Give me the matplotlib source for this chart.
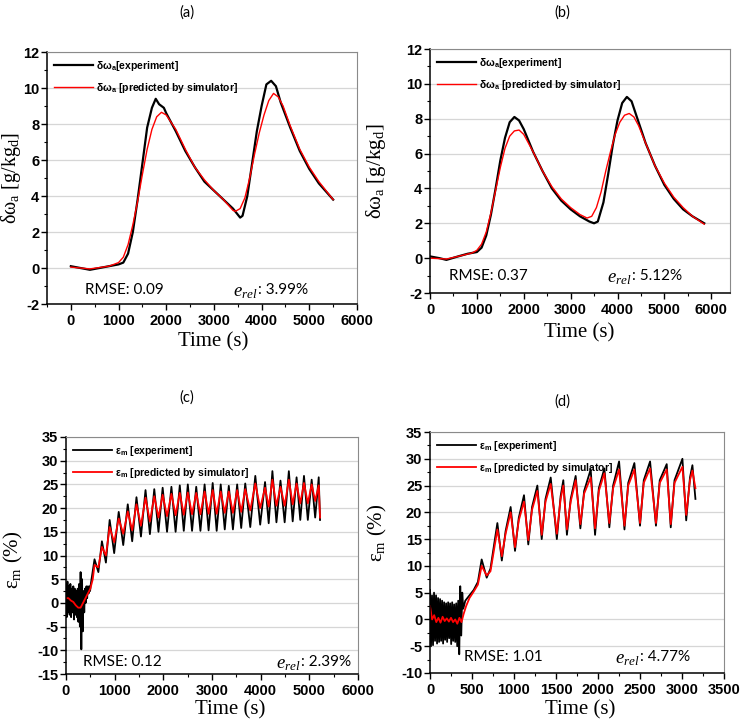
import numpy as np
import matplotlib
matplotlib.use('Agg')
import matplotlib.pyplot as plt
from matplotlib.ticker import MultipleLocator, AutoMinorLocator

plt.rcParams['font.family'] = 'Liberation Sans'
plt.rcParams['font.weight'] = 'bold'
plt.rcParams['axes.unicode_minus'] = False
plt.rcParams['mathtext.fontset'] = 'custom'
plt.rcParams['mathtext.it'] = 'Liberation Serif:style=italic:weight=normal'
plt.rcParams['mathtext.rm'] = 'Liberation Serif:weight=normal'

# ---- panel (a) ----
a_exp_t = [0, 200, 400, 600, 800, 1000, 1100, 1200, 1300, 1400, 1500, 1600, 1700, 1780, 1850, 1950, 2000,
           2200, 2400, 2600, 2800, 3000, 3200, 3400, 3550, 3600, 3700, 3800, 3900, 4000, 4100, 4200, 4300,
           4400, 4600, 4800, 5000, 5200, 5500]
a_exp_v = [0.1, 0.0, -0.1, 0.0, 0.1, 0.2, 0.3, 0.8, 2.0, 3.8, 5.8, 7.8, 8.9, 9.4, 9.1, 8.9, 8.6,
           7.6, 6.5, 5.6, 4.8, 4.3, 3.8, 3.3, 2.8, 2.9, 4.0, 5.8, 7.6, 9.0, 10.2, 10.4, 10.1,
           9.2, 7.8, 6.5, 5.5, 4.7, 3.8]
a_sim_t = [0, 400, 800, 1000, 1100, 1200, 1300, 1400, 1500, 1600, 1700, 1800, 1900, 2000, 2200, 2400,
           2600, 2800, 3000, 3200, 3400, 3450, 3550, 3650, 3750, 3850, 3950, 4050, 4150, 4250, 4350,
           4450, 4600, 4800, 5000, 5200, 5500]
a_sim_v = [0.05, -0.05, 0.1, 0.3, 0.6, 1.3, 2.4, 3.7, 5.2, 6.6, 7.7, 8.4, 8.65, 8.5, 7.7, 6.6,
           5.6, 4.9, 4.3, 3.8, 3.2, 3.15, 3.3, 3.9, 5.0, 6.3, 7.5, 8.5, 9.3, 9.7, 9.5,
           9.0, 7.9, 6.6, 5.6, 4.8, 3.8]

# ---- panel (b) ----
b_exp_t = [0, 200, 350, 600, 800, 1000, 1100, 1200, 1300, 1400, 1500, 1600, 1700, 1800, 1900, 2000,
           2200, 2400, 2600, 2800, 3000, 3200, 3400, 3500, 3580, 3700, 3800, 3900, 4000, 4100, 4200,
           4300, 4400, 4600, 4800, 5000, 5200, 5400, 5600, 5850]
b_exp_v = [0.1, 0.0, -0.1, 0.1, 0.25, 0.35, 0.6, 1.3, 2.5, 4.0, 5.6, 6.9, 7.8, 8.1, 7.9, 7.4,
           6.1, 5.0, 4.0, 3.3, 2.8, 2.4, 2.1, 2.0, 2.1, 3.2, 4.8, 6.5, 7.9, 8.9, 9.25,
           9.0, 8.2, 6.6, 5.3, 4.2, 3.4, 2.8, 2.4, 2.0]
b_sim_t = [0, 350, 600, 900, 1000, 1100, 1200, 1300, 1400, 1500, 1600, 1700, 1800, 1900, 2000, 2200,
           2400, 2600, 2800, 3000, 3200, 3350, 3450, 3550, 3650, 3750, 3850, 3950, 4050, 4150, 4250,
           4350, 4450, 4600, 4800, 5000, 5200, 5400, 5600, 5850]
b_sim_v = [0.0, -0.05, 0.1, 0.3, 0.45, 0.8, 1.5, 2.6, 3.9, 5.2, 6.3, 7.0, 7.3, 7.35, 7.1, 6.1,
           5.0, 4.1, 3.4, 2.9, 2.5, 2.3, 2.4, 2.9, 3.8, 5.0, 6.1, 7.1, 7.8, 8.2, 8.3,
           8.1, 7.6, 6.6, 5.3, 4.3, 3.5, 2.9, 2.4, 1.95]

# ---- panel (c) ----
c_noise_t = [0, 15, 30, 45, 60, 75, 90, 105, 120, 135, 150, 165, 180, 195, 210, 225, 240, 255, 270,
             285, 300, 315, 330, 345, 360, 375, 390, 405, 420, 435, 450, 465, 480, 495, 510]
c_noise_v = [4, -3, 4.5, -2, 3.5, -2.5, 4, -3, 3, -2, 3.5, -3.5, 3, -2.5, 2.5, -3, 3, -4, 4,
             -5, 6.5, -9.8, 5, -6, 2.5, -2, 3, 0, 3.5, 1, 3.5, 2, 3.5, 2.5, 4]
c_start_t = [0, 50, 100, 150, 200, 250, 300, 350, 400, 450, 500, 550]
c_start_v = [1.0, 1.0, 0.5, 0.2, -0.5, -1.0, -1.0, 0.0, 1.0, 2.0, 3.0, 5.0]
c_peak_t = [586, 738, 897, 1083, 1269, 1448, 1634, 1814, 1986, 2166, 2338, 2503, 2676, 2848, 3014,
            3179, 3345, 3517, 3683, 3890, 4090, 4241, 4407, 4579, 4738, 4890, 5048, 5193]
c_exp_peak = [9.2, 13.0, 17.5, 19.2, 20.8, 22.3, 23.8, 24.0, 24.3, 24.5, 24.8, 25.0, 24.5, 25.0, 25.3,
              25.0, 24.7, 25.0, 25.2, 26.8, 25.5, 27.8, 25.8, 27.8, 26.5, 26.8, 26.0, 26.5]
c_sim_peak = [8.0, 11.8, 16.0, 17.8, 19.3, 20.8, 22.2, 22.5, 22.8, 23.0, 23.2, 23.3, 23.2, 23.5, 23.8,
              23.5, 23.5, 23.8, 24.0, 25.2, 24.3, 26.0, 24.5, 26.0, 25.2, 25.3, 25.0, 24.8]
c_trough_t = [665, 820, 990, 1176, 1360, 1540, 1724, 1900, 2076, 2252, 2420, 2590, 2762, 2930, 3096,
              3262, 3430, 3600, 3786, 3990, 4165, 4324, 4493, 4658, 4814, 4969, 5120, 5220]
c_exp_trough = [6.5, 8.5, 10.5, 12.2, 13.0, 14.0, 14.5, 15.0, 15.0, 15.0, 15.2, 15.2, 15.2, 15.3, 15.2,
                15.5, 15.5, 15.8, 16.0, 16.5, 16.8, 17.0, 17.0, 17.2, 17.5, 17.5, 18.0, 17.5]
c_sim_trough = [7.5, 10.0, 12.8, 14.6, 15.3, 16.3, 17.2, 18.0, 18.3, 18.5, 18.6, 18.7, 18.7, 18.8, 18.8,
                19.0, 19.0, 19.2, 19.5, 20.0, 20.3, 20.5, 20.5, 20.8, 21.0, 21.0, 21.5, 18.0]

# ---- panel (d) ----
d_noise_t = [0, 12, 24, 36, 48, 60, 72, 84, 96, 108, 120, 132, 144, 156, 168, 180, 192, 204, 216,
             228, 240, 252, 264, 276, 288, 300, 312, 324, 336, 348, 360, 372, 384, 396, 420, 470, 520, 570]
d_noise_v = [5.5, -5, 4.5, -4.8, 5, -4, 4.5, -4.5, 4, -4.2, 3.8, -4, 3.5, -4.5, 3.2, -3.8, 3, -4.2, 3.2,
             -3.5, 3, -4.6, 3.2, -4, 2.8, -4.2, 3, -5, 3.5, -6.5, 6.2, -3, 5, 2, 3.5, 4.5, 5.5, 7.0]
d_start_t = [0, 25, 50, 75, 100, 125, 150, 175, 200, 225, 250, 275, 300, 325, 350, 375, 400, 430, 470,
             520, 570]
d_start_v = [2.5, 0.0, 0.8, -0.5, 0.3, -0.6, 0.5, -0.3, 0.2, -0.4, 0.3, -0.5, 0.0, -0.8, 0.3, -0.5,
             1.0, 2.5, 4.0, 5.2, 6.5]
d_peak_t = [615, 802, 960, 1119, 1278, 1437, 1587, 1734, 1913, 2076, 2251, 2433, 2620, 2818, 3005, 3124]
d_exp_peak = [11.2, 18.0, 21.0, 23.2, 25.0, 26.5, 26.0, 26.8, 28.0, 28.2, 29.5, 29.2, 29.5, 29.0, 30.0, 28.8]
d_sim_peak = [10.0, 16.8, 20.0, 22.0, 24.0, 25.3, 25.0, 26.0, 26.5, 27.3, 28.0, 28.0, 28.2, 28.0, 28.5, 27.8]
d_trough_t = [675, 855, 1012, 1170, 1330, 1510, 1630, 1790, 1965, 2135, 2315, 2500, 2690, 2866, 3050, 3160]
d_exp_trough = [7.8, 11.0, 12.8, 14.0, 15.0, 15.0, 15.8, 17.0, 15.8, 17.2, 16.8, 17.5, 17.5, 17.2, 18.5, 22.5]
d_sim_trough = [8.2, 11.8, 13.5, 14.8, 15.8, 16.0, 16.8, 17.8, 17.0, 18.0, 17.5, 18.0, 18.0, 17.8, 19.5, 24.5]
d_knee_t = [720, 900, 1057, 1215, 1375, 1555, 1675, 1835, 2010, 2180, 2360, 2545, 2735, 2911, 3095]
d_exp_knee = [9.5, 16.5, 19.0, 21.0, 22.5, 23.0, 22.5, 24.0, 24.5, 25.0, 25.5, 26.0, 26.0, 26.0, 26.5]
d_sim_knee = [9.0, 16.0, 18.5, 20.5, 22.0, 22.5, 22.0, 23.5, 24.0, 24.5, 25.0, 25.5, 25.5, 25.5, 26.0]

stats = {
    'a': ('RMSE: 0.09', '3.99%'),
    'b': ('RMSE: 0.37', '5.12%'),
    'c': ('RMSE: 0.12', '2.39%'),
    'd': ('RMSE: 1.01', '4.77%'),
}


def join(*pairs):
    t = np.concatenate([np.asarray(p[0], float) for p in pairs])
    v = np.concatenate([np.asarray(p[1], float) for p in pairs])
    order = np.argsort(t, kind='stable')
    return t[order], v[order]


c_exp = join((c_noise_t, c_noise_v), (c_peak_t, c_exp_peak), (c_trough_t, c_exp_trough))
c_sim = join((c_start_t, c_start_v), (c_peak_t, c_sim_peak), (c_trough_t, c_sim_trough))
d_exp = join((d_noise_t, d_noise_v), (d_peak_t, d_exp_peak), (d_trough_t, d_exp_trough), (d_knee_t, d_exp_knee))
d_sim = join((d_start_t, d_start_v), (d_peak_t, d_sim_peak), (d_trough_t, d_sim_trough), (d_knee_t, d_sim_knee))

W, H = 747, 725
fig = plt.figure(figsize=(W / 100, H / 100), dpi=100)
renderer = fig.canvas.get_renderer()


def px_axes(l, r, t, b):
    return fig.add_axes([l / W, 1 - b / H, (r - l) / W, (b - t) / H])


def style(ax, xlim, ylim, xmaj, ymaj):
    ax.set_xlim(*xlim)
    ax.set_ylim(*ylim)
    ax.xaxis.set_major_locator(MultipleLocator(xmaj))
    ax.yaxis.set_major_locator(MultipleLocator(ymaj))
    ax.xaxis.set_minor_locator(AutoMinorLocator(2))
    ax.yaxis.set_minor_locator(AutoMinorLocator(2))
    ax.grid(axis='y', which='major', color='#d6d6d6', lw=0.9)
    ax.set_axisbelow(True)
    ax.tick_params(which='major', direction='out', length=4, width=1, labelsize=10.5)
    ax.tick_params(which='minor', direction='out', length=2.2, width=0.8)
    ax.tick_params(axis='y', pad=1.5)
    ax.tick_params(axis='x', pad=3)
    for s in ['top', 'right']:
        ax.spines[s].set_color('#8a8a8a')
    for s in ['left', 'bottom']:
        ax.spines[s].set_linewidth(1.1)


def annotate(ax, key, rx, ex, y):
    rmse, erel = stats[key]
    ax.text(rx, y, rmse, transform=ax.transAxes, family='Lato', weight='normal', fontsize=11, va='center')
    m = ax.text(ex, y - 0.01, r'$e_{rel}$', transform=ax.transAxes, family='Lato', weight='normal',
                fontsize=13.5, va='center')
    bb = m.get_window_extent(renderer)
    x0, _ = ax.transAxes.inverted().transform((bb.x1, bb.y0))
    ax.text(x0, y, ': ' + erel, transform=ax.transAxes, family='Lato', weight='normal', fontsize=11, va='center')


legend_kw = dict(loc='upper left', frameon=False, handlelength=3.8, handletextpad=0.3,
                 labelspacing=0.75, borderaxespad=0.25, prop={'family': 'Liberation Sans', 'weight': 'bold', 'size': 7.5})
ylab_kw = dict(family='Liberation Serif', weight='normal', fontsize=15)

# (a)
ax = px_axes(47, 357, 52, 304)
ax.plot(a_exp_t, a_exp_v, color='black', lw=1.6, label='δω$_\\mathregular{a}$[experiment]')
ax.plot(a_sim_t, a_sim_v, color='red', lw=1.0, label='δω$_\\mathregular{a}$ [predicted by simulator]')
style(ax, (-500, 6000), (-2, 12), 1000, 2)
ax.legend(**legend_kw)
annotate(ax, 'a', 0.122, 0.60, 0.055)
ax.set_ylabel('δω$_\\mathregular{a}$ [g/kg$_\\mathregular{d}$]', family='Liberation Serif', weight='normal',
              fontsize=14.5)
ax.yaxis.set_label_coords(-0.078, 0.5)

# (b)
ax = px_axes(430, 730, 49, 293)
ax.plot(b_exp_t, b_exp_v, color='black', lw=1.6, label='δω$_\\mathregular{a}$[experiment]')
ax.plot(b_sim_t, b_sim_v, color='red', lw=1.0, label='δω$_\\mathregular{a}$ [predicted by simulator]')
style(ax, (0, 6400), (-2, 12), 1000, 2)
ax.legend(**legend_kw)
annotate(ax, 'b', 0.063, 0.59, 0.07)
ax.set_ylabel('δω$_\\mathregular{a}$ [g/kg$_\\mathregular{d}$]', **ylab_kw)
ax.yaxis.set_label_coords(-0.14, 0.5)

# (c)
ax = px_axes(66, 358, 437, 674)
ax.plot(c_exp[0], c_exp[1], color='black', lw=1.3, label='ε$_\\mathregular{m}$ [experiment]')
ax.plot(c_sim[0], c_sim[1], color='red', lw=1.3, label='ε$_\\mathregular{m}$ [predicted by simulator]')
style(ax, (0, 6000), (-15, 35), 1000, 5)
ax.legend(**legend_kw)
annotate(ax, 'c', 0.058, 0.72, 0.05)
ax.set_ylabel('ε$_\\mathregular{m}$ (%)', **ylab_kw)
ax.yaxis.set_label_coords(-0.14, 0.48)

# (d)
ax = px_axes(430, 724, 432, 673)
ax.plot(d_exp[0], d_exp[1], color='black', lw=1.3, label='ε$_\\mathregular{m}$ [experiment]')
ax.plot(d_sim[0], d_sim[1], color='red', lw=1.3, label='ε$_\\mathregular{m}$ [predicted by simulator]')
style(ax, (0, 3500), (-10, 35), 500, 5)
ax.legend(**legend_kw)
annotate(ax, 'd', 0.115, 0.63, 0.066)
ax.set_ylabel('ε$_\\mathregular{m}$ (%)', **ylab_kw)
ax.yaxis.set_label_coords(-0.14, 0.58)

# panel letters and x titles
for x, y, s in [(187, 13, '(a)'), (562, 13, '(b)'), (187, 398, '(c)'), (562, 402, '(d)')]:
    fig.text(x / W, 1 - y / H, s, family='Lato', weight='normal', fontsize=10.5, ha='center', va='center')
for x, y in [(213, 342), (579, 333), (230, 710), (580, 710)]:
    fig.text(x / W, 1 - y / H, 'Time (s)', family='Liberation Serif', weight='normal', fontsize=15,
             ha='center', va='center')

fig.savefig('out.png', dpi=100)
